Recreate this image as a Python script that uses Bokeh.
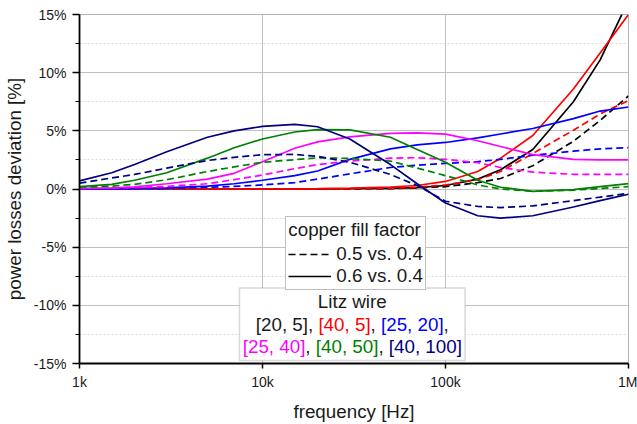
from bokeh.plotting import figure
from bokeh.models import (Range1d, FixedTicker, PrintfTickFormatter, Legend, LegendItem,
                          BoxAnnotation, Label)
from bokeh.embed import file_html
from bokeh.resources import INLINE

# ---------------------------------------------------------------- data
freq_hz = [1e3, 1.5e3, 2e3, 3e3, 5e3, 7e3, 1e4, 1.5e4, 2e4, 3e4, 5e4, 7e4,
           1e5, 1.5e5, 2e5, 3e5, 5e5, 7e5, 1e6]

# power losses deviation [%]; "ff06" = fill factor 0.6 vs. 0.4, "ff05" = 0.5 vs. 0.4
litz_20_5_ff06 = [0, 0, 0, 0, 0, 0, 0, 0, 0.01, 0.02, 0.06, 0.12, 0.3, 0.85, 1.65, 3.4, 7.5, 11.1, 16.2]
litz_20_5_ff05 = [0, 0, 0, 0, 0, 0, 0, 0, 0, 0.01, 0.04, 0.1, 0.2, 0.55, 0.9, 2.0, 4.1, 5.9, 8.0]
litz_40_5_ff06 = [0, 0, 0, 0, 0, 0, 0, 0.01, 0.03, 0.07, 0.17, 0.3, 0.65, 1.5, 2.65, 4.6, 8.6, 11.7, 15.0]
litz_40_5_ff05 = [0, 0, 0, 0, 0, 0, 0, 0, 0.01, 0.02, 0.06, 0.15, 0.35, 0.8, 1.5, 3.05, 5.05, 6.45, 7.6]
litz_25_20_ff06 = [0, 0.02, 0.05, 0.1, 0.25, 0.45, 0.75, 1.15, 1.55, 2.55, 3.45, 3.8, 4.0, 4.4, 4.73, 5.2, 6.05, 6.7, 7.05]
litz_25_20_ff05 = [0, 0.01, 0.02, 0.05, 0.15, 0.22, 0.35, 0.55, 0.85, 1.3, 1.85, 2.05, 2.2, 2.35, 2.55, 2.9, 3.25, 3.45, 3.55]
litz_25_40_ff06 = [0.06, 0.1, 0.18, 0.45, 0.85, 1.35, 2.35, 3.5, 4.05, 4.48, 4.78, 4.83, 4.72, 4.15, 3.65, 2.95, 2.55, 2.5, 2.5]
litz_25_40_ff05 = [0.05, 0.07, 0.12, 0.22, 0.45, 0.8, 1.2, 1.75, 2.1, 2.4, 2.65, 2.69, 2.55, 2.26, 1.85, 1.45, 1.26, 1.25, 1.25]
litz_40_50_ff06 = [0.2, 0.4, 0.75, 1.4, 2.65, 3.55, 4.3, 4.9, 5.1, 5.08, 4.45, 3.4, 2.3, 0.75, 0.15, -0.2, -0.05, 0.2, 0.47]
litz_40_50_ff05 = [0.15, 0.25, 0.4, 0.8, 1.5, 1.9, 2.3, 2.52, 2.68, 2.63, 2.4, 1.8, 1.15, 0.35, 0.0, -0.2, -0.1, 0.05, 0.2]
litz_40_100_ff06 = [0.7, 1.4, 2.1, 3.2, 4.45, 5.0, 5.38, 5.55, 5.35, 4.3, 2.1, 0.45, -1.2, -2.3, -2.5, -2.3, -1.55, -1.0, -0.45]
litz_40_100_ff05 = [0.5, 0.95, 1.25, 1.8, 2.45, 2.72, 2.95, 2.97, 2.8, 2.3, 1.25, 0.3, -1.05, -1.5, -1.6, -1.45, -1.0, -0.7, -0.37]

litz_names = ["[20, 5]", "[40, 5]", "[25, 20]", "[25, 40]", "[40, 50]", "[40, 100]"]
litz_colors = ["#000000", "#FF0000", "#0000FF", "#FF00FF", "#008000", "#000080"]

x_tick_values = [1e3, 1e4, 1e5, 1e6]
x_tick_labels = ["1k", "10k", "100k", "1M"]
y_tick_values = [-15, -10, -5, 0, 5, 10, 15]
y_minor_values = [-12.5, -7.5, -2.5, 2.5, 7.5, 12.5]

# ---------------------------------------------------------------- layout
W, H = 637, 424
FRAME_L, FRAME_R, FRAME_T, FRAME_B = 78, 628, 14, 364
X_LO, X_HI, Y_LO, Y_HI = 1e3, 1e6, -15, 15
FONT = "Liberation Sans"
BIG = "18.8px"
TXT = "#1a1a1a"


def px_to_x(px):
    """Screen x (pixels) -> frequency on the log axis."""
    import math
    lo, hi = math.log10(X_LO), math.log10(X_HI)
    return 10 ** (lo + (hi - lo) * (px - FRAME_L) / (FRAME_R - FRAME_L))


def px_to_y(py):
    """Screen y (pixels) -> deviation in %."""
    return Y_HI - (Y_HI - Y_LO) * (py - FRAME_T) / (FRAME_B - FRAME_T)


p = figure(width=W, height=H, x_axis_type="log",
           x_range=Range1d(X_LO, X_HI), y_range=Range1d(Y_LO, Y_HI),
           output_backend="svg", toolbar_location=None,
           min_border_left=FRAME_L, min_border_right=W - FRAME_R,
           min_border_top=FRAME_T, min_border_bottom=H - FRAME_B)
p.background_fill_color = "white"
p.border_fill_color = "white"
p.outline_line_color = "#b4b4b4"
p.outline_line_width = 1

# axes
p.xaxis.ticker = FixedTicker(ticks=x_tick_values, minor_ticks=[])
p.xaxis.major_label_overrides = {v: s for v, s in zip(x_tick_values, x_tick_labels)}
p.yaxis.ticker = FixedTicker(ticks=y_tick_values, minor_ticks=y_minor_values)
p.yaxis.formatter = PrintfTickFormatter(format="%d%%")

for ax in (p.xaxis[0], p.yaxis[0]):
    ax.axis_line_color = "black"
    ax.axis_line_width = 1.8
    ax.major_tick_line_color = "black"
    ax.major_tick_line_width = 1.5
    ax.major_tick_in = 0
    ax.minor_tick_in = 0
    ax.major_label_text_font = FONT
    ax.major_label_text_font_size = "14px"
    ax.major_label_text_color = TXT
    ax.axis_label_text_font = FONT
    ax.axis_label_text_font_size = BIG
    ax.axis_label_text_font_style = "normal"
    ax.axis_label_text_color = TXT

p.xaxis.axis_label = "frequency [Hz]"
p.xaxis.major_tick_out = 5
p.xaxis.major_label_standoff = 5
p.xaxis.axis_label_standoff = 8
p.xaxis.minor_tick_line_color = None

p.yaxis.axis_label = "power losses deviation [%]"
p.yaxis.major_tick_out = 7
p.yaxis.minor_tick_out = 4
p.yaxis.minor_tick_line_color = "black"
p.yaxis.minor_tick_line_width = 1.2
p.yaxis.major_label_standoff = 6
p.yaxis.axis_label_standoff = 6

# grid
p.xgrid.grid_line_color = "#c0c0c0"
p.xgrid.grid_line_width = 1
p.xgrid.minor_grid_line_color = None
p.ygrid.grid_line_color = "#c0c0c0"
p.ygrid.grid_line_width = 1
p.ygrid.minor_grid_line_color = "#dcdcdc"
p.ygrid.minor_grid_line_dash = "2 2"

# ---------------------------------------------------------------- curves
series = [
    (litz_20_5_ff05, litz_20_5_ff06),
    (litz_40_5_ff05, litz_40_5_ff06),
    (litz_25_20_ff05, litz_25_20_ff06),
    (litz_25_40_ff05, litz_25_40_ff06),
    (litz_40_50_ff05, litz_40_50_ff06),
    (litz_40_100_ff05, litz_40_100_ff06),
]
DASH = "7 4"
dashed_refs, solid_refs = [], []
for (ff05, ff06), color in zip(series, litz_colors):
    rd = p.line(freq_hz, ff05, line_color=color, line_width=1.7, line_dash=DASH)
    rs = p.line(freq_hz, ff06, line_color=color, line_width=1.7)
    dashed_refs.append(rd)
    solid_refs.append(rs)

# ---------------------------------------------------------------- legend: fill factor
ff_legend = Legend(
    items=[LegendItem(label="0.5 vs. 0.4", renderers=[dashed_refs[0]]),
           LegendItem(label="0.6 vs. 0.4", renderers=[solid_refs[0]])],
    location=(284.3 - FRAME_L, 73),
    title="copper fill factor",
    title_text_font=FONT, title_text_font_size=BIG, title_text_font_style="normal",
    title_text_color=TXT, title_standoff=2,
    label_text_font=FONT, label_text_font_size=BIG, label_text_color=TXT,
    glyph_width=43, glyph_height=22, label_height=22, label_standoff=5,
    padding=2, spacing=0, margin=0,
    border_line_color="#808080", border_line_width=1.5,
    background_fill_color="white", background_fill_alpha=1.0,
)
p.add_layout(ff_legend)

# ---------------------------------------------------------------- legend: litz wire
box_l, box_r, box_t, box_b = 238.3, 464.3, 288.3, 361.0
p.add_layout(BoxAnnotation(left=px_to_x(box_l), right=px_to_x(box_r),
                           top=px_to_y(box_t), bottom=px_to_y(box_b),
                           fill_color="white", fill_alpha=1.0,
                           line_color="#808080", line_width=1.5))
center_px = (box_l + box_r) / 2
p.add_layout(Label(x=px_to_x(center_px), y=px_to_y(301.7), text="Litz wire",
                   text_font=FONT, text_font_size=BIG, text_color=TXT,
                   text_align="center", text_baseline="middle"))

# Arial / Liberation Sans advance widths (em) for the characters used below
EM = {"[": 0.278, "]": 0.278, ",": 0.278, " ": 0.278}
EM.update({d: 0.556 for d in "0123456789"})
FS = 18.8


def text_px(s):
    return sum(EM[c] for c in s) * FS


def colored_row(parts, py):
    total = sum(text_px(s) for s, _ in parts)
    x = center_px - total / 2
    for s, col in parts:
        p.add_layout(Label(x=px_to_x(x), y=px_to_y(py), text=s,
                           text_font=FONT, text_font_size=BIG, text_color=col,
                           text_align="left", text_baseline="middle"))
        x += text_px(s)


colored_row([(litz_names[0] + ", ", TXT), (litz_names[1], litz_colors[1]), (", ", TXT),
             (litz_names[2], litz_colors[2]), (",", TXT)], 325.0)
colored_row([(litz_names[3], litz_colors[3]), (", ", TXT), (litz_names[4], litz_colors[4]),
             (", ", TXT), (litz_names[5], litz_colors[5])], 346.7)

open("out.html", "w").write(file_html(p, INLINE))
